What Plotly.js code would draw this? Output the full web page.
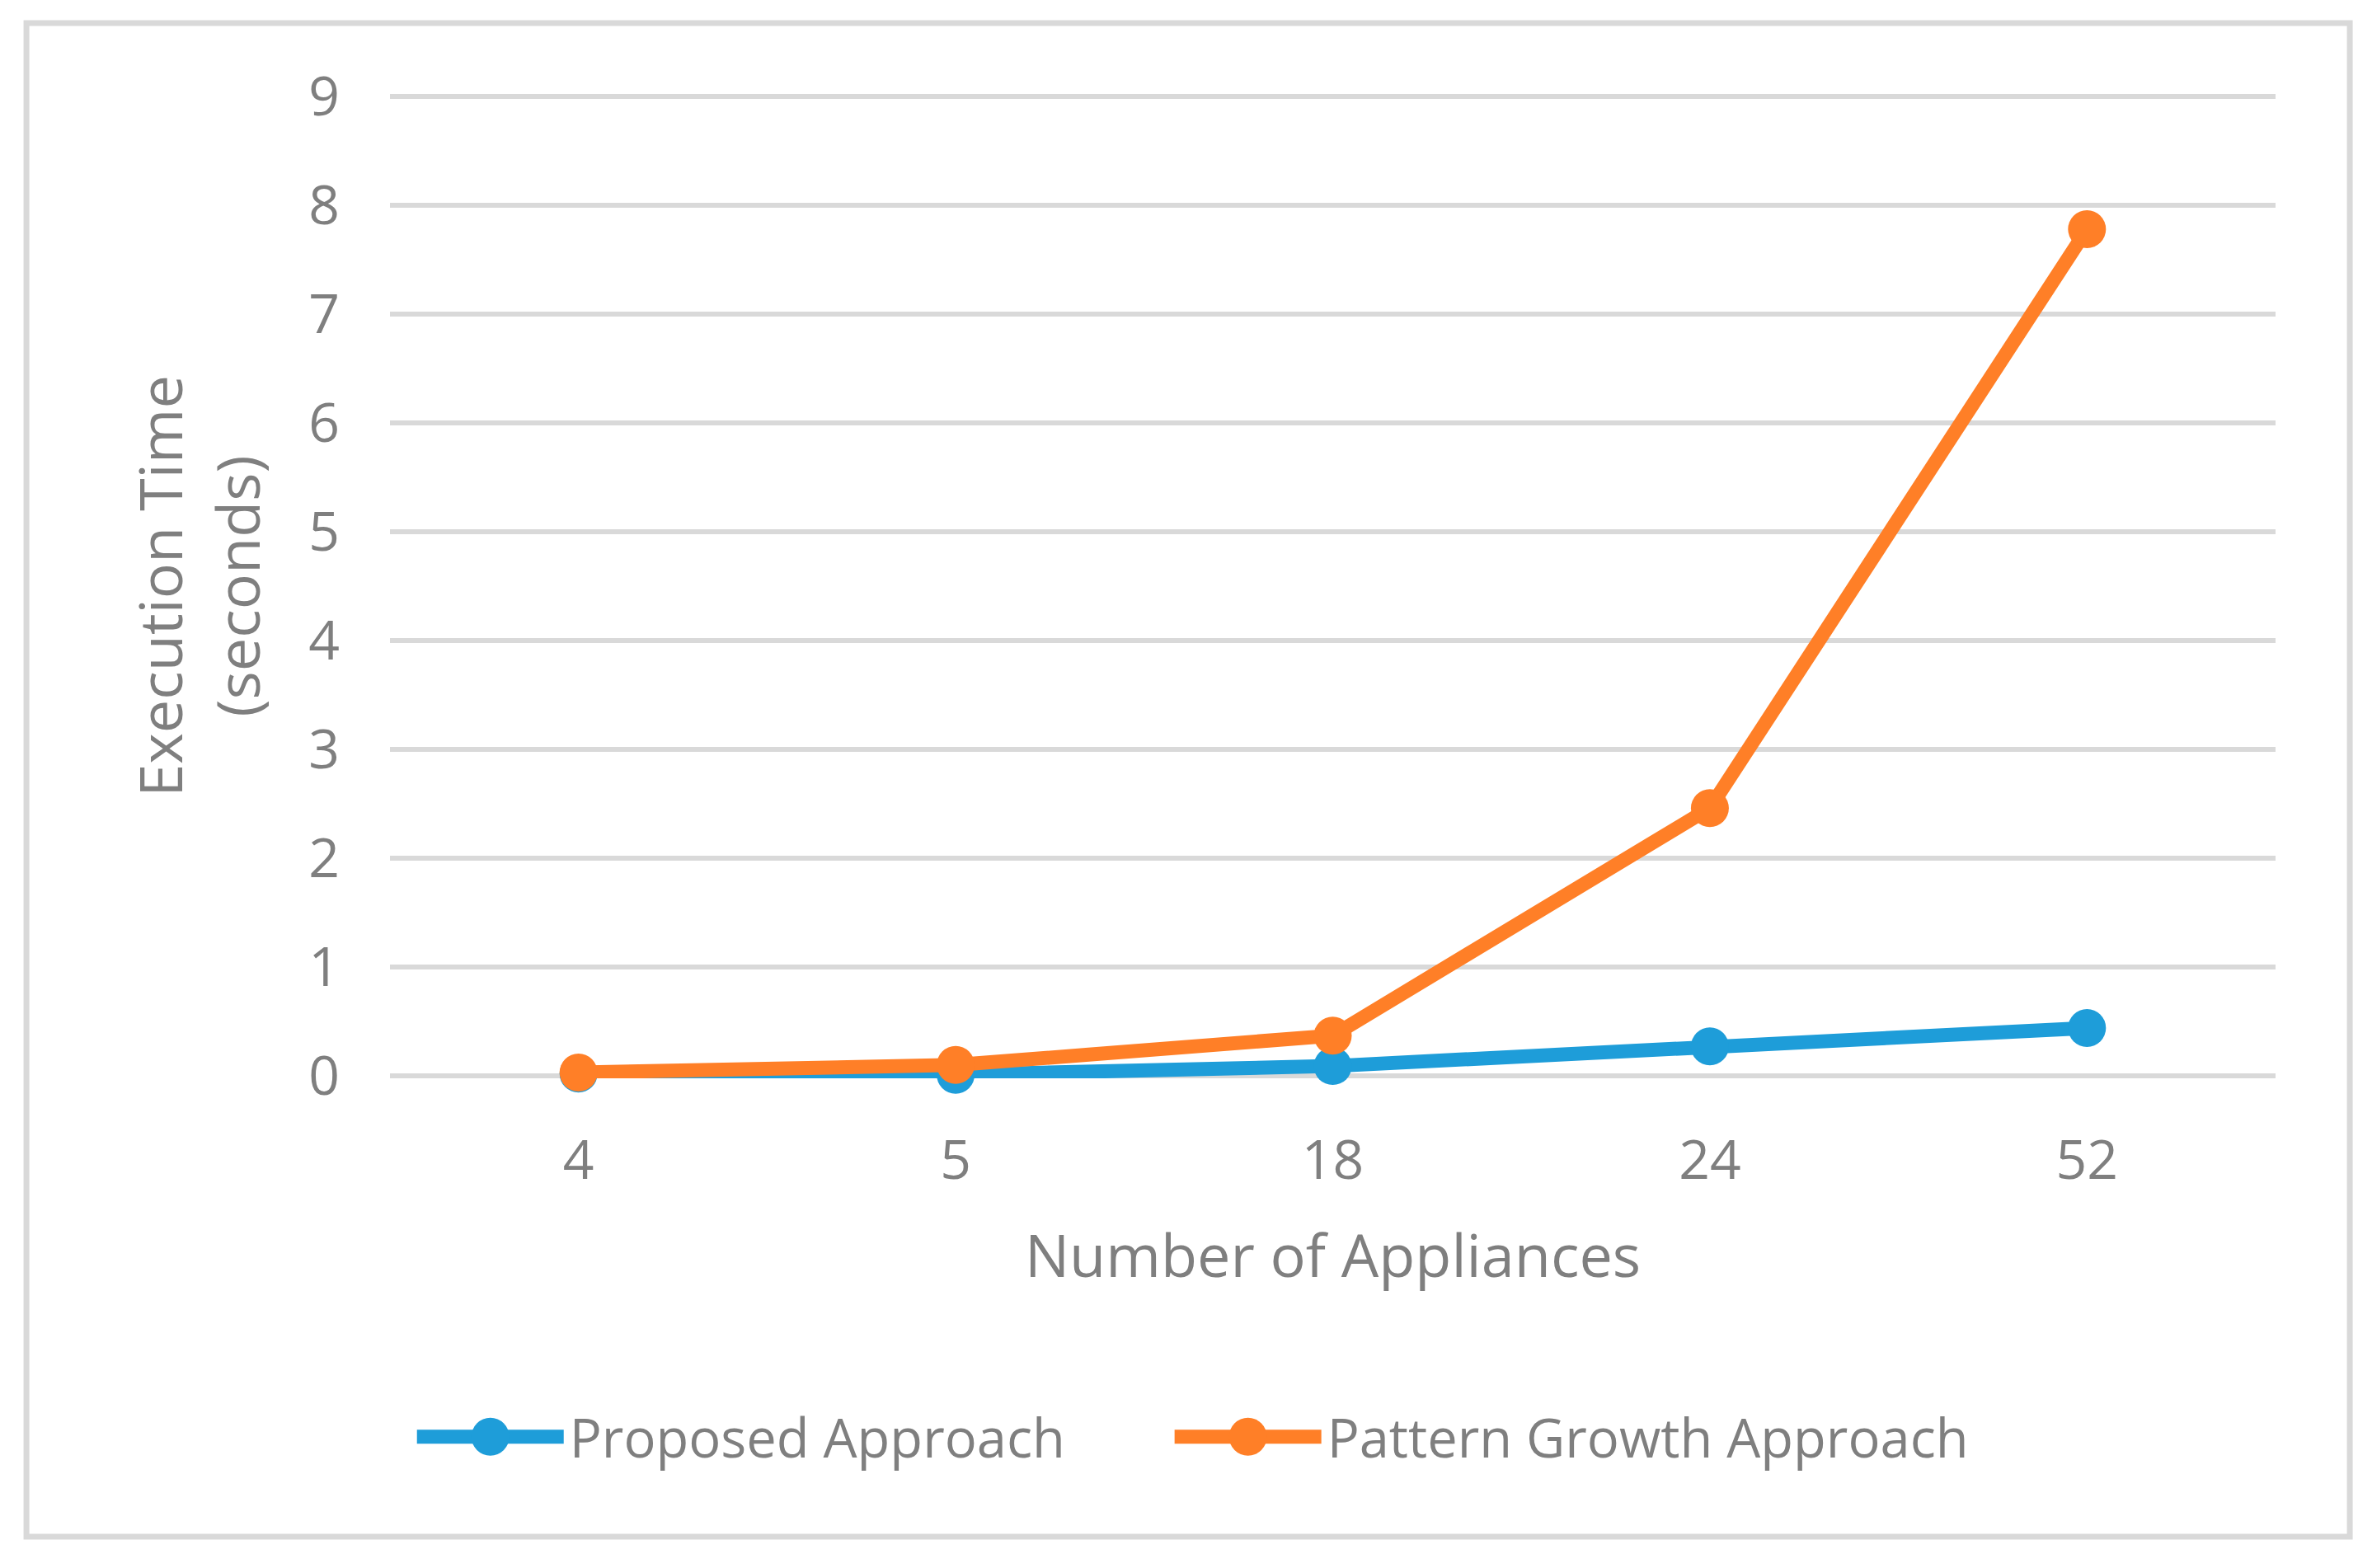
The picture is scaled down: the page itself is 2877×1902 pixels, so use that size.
<!DOCTYPE html>
<html>
<head>
<meta charset="utf-8">
<script src="https://cdn.plot.ly/plotly-3.0.1.min.js"></script>
<style>
html,body{margin:0;padding:0;background:#fff;}
#chart{width:2877px;height:1902px;}
</style>
</head>
<body>
<div id="chart"></div>
<script>
const categories = ["4", "5", "18", "24", "52"];
const proposedApproach = [0.02, 0.01, 0.09, 0.27, 0.44];
const patternGrowthApproach = [0.03, 0.10, 0.37, 2.46, 7.78];
const yTickValues = [0, 1, 2, 3, 4, 5, 6, 7, 8, 9];

const textColor = "#7f7f7f";
const gridColor = "#d9d9d9";
const fontFamily = "'Open Sans', 'Noto Sans', sans-serif";

const traces = [
  {
    x: categories, y: proposedApproach, name: "Proposed Approach",
    type: "scatter", mode: "lines+markers", cliponaxis: false, legend: "legend",
    line: {color: "#1e9dd9", width: 17},
    marker: {color: "#1e9dd9", size: 46}
  },
  {
    x: categories, y: patternGrowthApproach, name: "Pattern Growth Approach",
    type: "scatter", mode: "lines+markers", cliponaxis: false, legend: "legend2",
    line: {color: "#ff7f27", width: 17},
    marker: {color: "#ff7f27", size: 46}
  }
];

function legendAt(xPos) {
  return {
    orientation: "h", x: xPos, xanchor: "left", y: -0.3643, yanchor: "middle",
    font: {family: fontFamily, color: textColor, size: 65},
    itemwidth: 178, bgcolor: "rgba(0,0,0,0)", borderwidth: 0
  };
}

const layout = {
  width: 2877, height: 1902,
  paper_bgcolor: "#ffffff", plot_bgcolor: "#ffffff",
  margin: {l: 473, r: 117, t: 114, b: 594, autoexpand: false},
  font: {family: fontFamily, color: textColor, size: 65},
  showlegend: true,
  legend: legendAt(0.013),
  legend2: legendAt(0.4148),
  xaxis: {
    type: "category", categoryorder: "array", categoryarray: categories,
    range: [-0.5, 4.5], showgrid: false, zeroline: false, showline: false,
    ticks: "", ticklabelstandoff: 55,
    tickfont: {family: fontFamily, color: textColor, size: 66},
    title: {text: "Number of Appliances", standoff: 50,
            font: {family: fontFamily, color: textColor, size: 72}},
    fixedrange: true, automargin: false
  },
  yaxis: {
    range: [-0.0227, 9.0227], tickvals: yTickValues, ticktext: yTickValues.map(String),
    showgrid: true, gridcolor: gridColor, gridwidth: 6,
    zeroline: false, showline: false, ticks: "", ticklabelstandoff: 60,
    tickfont: {family: fontFamily, color: textColor, size: 66},
    title: {text: "Execution Time<br>(seconds)", standoff: 35,
            font: {family: fontFamily, color: textColor, size: 72}},
    fixedrange: true, automargin: false
  },
  shapes: [{
    type: "rect", xref: "paper", yref: "paper",
    x0: -0.1928, x1: 1.0394, y0: -0.4657, y1: 1.0720,
    line: {color: gridColor, width: 7}, fillcolor: "rgba(0,0,0,0)", layer: "below"
  }]
};

function tweakLegend(gd) {
  const items = gd.querySelectorAll(".infolayer .traces");
  items.forEach(function(item) {
    const line = item.querySelector(".legendlines path");
    if (line) {
      line.setAttribute("d", "M3,0h178");
      line.style.strokeWidth = "17px";
    }
    const pt = item.querySelector(".legendpoints path.scatterpts");
    if (pt) {
      pt.setAttribute("transform", "translate(92,0) scale(2.875)");
    }
  });
}

const gd = document.getElementById("chart");
Plotly.newPlot(gd, traces, layout, {displayModeBar: false, staticPlot: true}).then(function() {
  tweakLegend(gd);
  gd.on("plotly_afterplot", function() { tweakLegend(gd); });
});
</script>
</body>
</html>
